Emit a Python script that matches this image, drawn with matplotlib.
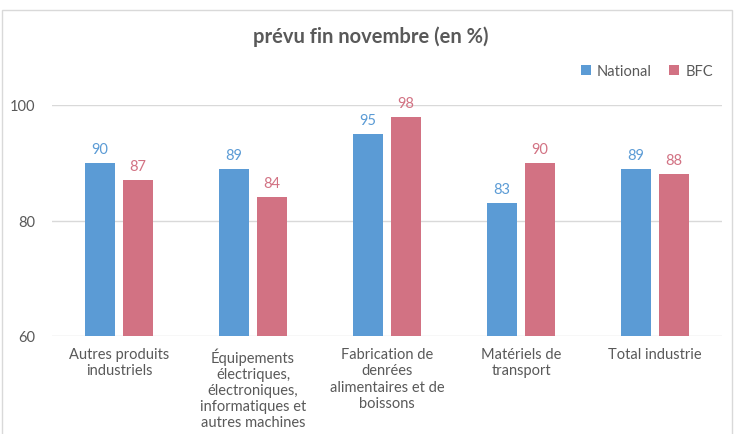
import matplotlib
matplotlib.use("Agg")
import matplotlib.pyplot as plt
from matplotlib.patches import Rectangle
import numpy as np

plt.rcParams['font.family'] = ['Lato', 'DejaVu Sans']

categories = ["Autres produits\nindustriels",
              "Équipements\nélectriques,\nélectroniques,\ninformatiques et\nautres machines",
              "Fabrication de\ndenrées\nalimentaires et de\nboissons",
              "Matériels de\ntransport",
              "Total industrie"]
national = [90, 89, 95, 83, 89]
bfc = [87, 84, 98, 90, 88]

blue = '#5B9BD5'
pink = '#D27283'
grey = '#595959'

fig = plt.figure(figsize=(7.34, 4.35), dpi=100)
ax = fig.add_axes([52 / 734, 1 - 337 / 435, 670 / 734, 231 / 435])

# chart frame
fig.patches.append(Rectangle((2 / 734, -0.05), 730 / 734, 1.05 - 11 / 435,
                             transform=fig.transFigure, fill=False,
                             edgecolor='#D9D9D9', linewidth=1))

x = np.arange(len(categories))
w = 0.22
gap = 0.065
b1 = ax.bar(x - (w + gap) / 2, national, w, color=blue, label='National', zorder=3)
b2 = ax.bar(x + (w + gap) / 2, bfc, w, color=pink, label='BFC', zorder=3)

for rect, v in zip(b1, national):
    ax.text(rect.get_x() + rect.get_width() / 2, v + 1.2, str(v), ha='center', va='bottom',
            color=blue, fontsize=10.5, clip_on=False)
for rect, v in zip(b2, bfc):
    ax.text(rect.get_x() + rect.get_width() / 2, v + 1.2, str(v), ha='center', va='bottom',
            color=pink, fontsize=10.5, clip_on=False)

ax.set_ylim(60, 100)
ax.set_xlim(-0.5, len(categories) - 0.5)
ax.set_yticks([60, 80, 100])
ax.set_xticks(x)
ax.set_xticklabels(categories, color=grey, fontsize=10.5, linespacing=1.2)
ax.tick_params(axis='y', colors=grey, labelsize=10.5, length=0, pad=12)
ax.tick_params(axis='x', length=0, pad=8)
ax.grid(axis='y', color='#D9D9D9', linewidth=1, zorder=0)
for s in ax.spines.values():
    s.set_visible(False)

fig.text(371 / 734, 1 - 37 / 435, 'prévu fin novembre (en %)', ha='center', va='center',
         fontsize=14.5, fontweight='bold', color=grey)
fig.legend(handles=[b1, b2], loc='center right', bbox_to_anchor=(726 / 734, 1 - 72 / 435),
           ncol=2, frameon=False, fontsize=10.5, labelcolor=grey, handlelength=0.7,
           handleheight=0.7, handletextpad=0.4, columnspacing=1.2)

fig.savefig('out.png', dpi=100)
